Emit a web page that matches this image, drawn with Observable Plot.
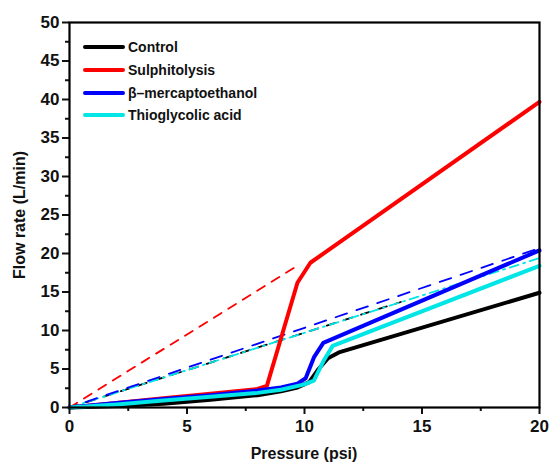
<!DOCTYPE html>
<html>
<head>
<meta charset="utf-8">
<script src="https://cdn.jsdelivr.net/npm/d3@7"></script>
<script src="https://cdn.jsdelivr.net/npm/@observablehq/plot@0.6"></script>
<style>
  html, body { margin: 0; padding: 0; background: #fff; }
  #wrap { position: relative; width: 549px; height: 468px; font-family: "Liberation Sans", Arial, sans-serif; }
  #legend { position: absolute; left: 83px; top: 36px; font-weight: bold; font-size: 14px; color: #111; }
  .row { display: flex; align-items: center; height: 22.7px; }
  .sw { width: 42px; height: 4px; border-radius: 2px; margin-right: 3px; }
</style>
</head>
<body>
<div id="wrap"><div id="chart"></div><div id="legend"></div></div>
<script>
// ---- data ----
const seriesNames = ["Control", "Sulphitolysis", "β–mercaptoethanol", "Thioglycolic acid"];
const seriesColors = ["#000000", "#ff0000", "#0000ff", "#00e5e5"];

const controlP = [0, 2, 4, 6, 8, 9, 9.7, 10.2, 10.6, 11.0, 11.5, 20];
const controlF = [0, 0.2, 0.5, 1.0, 1.6, 2.1, 2.6, 3.3, 5.0, 6.4, 7.2, 14.9];

const sulphP = [0, 2, 4, 6, 8, 8.4, 9.0, 9.7, 10.25, 20];
const sulphF = [0, 0.6, 1.2, 1.8, 2.4, 2.8, 9.0, 16.2, 18.8, 39.7];

const mercP = [0, 2, 4, 6, 8, 9, 9.7, 10.05, 10.4, 10.8, 20];
const mercF = [0, 0.6, 1.1, 1.6, 2.2, 2.6, 3.1, 3.8, 6.5, 8.4, 20.4];

const thioP = [0, 2, 4, 6, 8, 9, 10.0, 10.4, 10.8, 11.2, 20];
const thioF = [0, 0.4, 0.9, 1.4, 1.9, 2.3, 3.0, 3.5, 6.0, 8.0, 18.4];

// dashed linear-regime extrapolations
const sulphFitP = [0, 9.8];
const sulphFitF = [0, 18.6];
const controlFitP = [0, 14.1];
const controlFitF = [0, 13.7];
const mercFitP = [0, 20];
const mercFitF = [0, 20.7];
const thioFitP = [0, 20];
const thioFitF = [0, 19.4];

const xTicks = [0, 5, 10, 15, 20];
const xMinor = [2.5, 7.5, 12.5, 17.5];
const yTicks = [0, 5, 10, 15, 20, 25, 30, 35, 40, 45, 50];
const yMinor = [2.5, 7.5, 12.5, 17.5, 22.5, 27.5, 32.5, 37.5, 42.5, 47.5];

const toRows = (P, F) => P.map((p, i) => ({p, f: F[i]}));

const font = `"Liberation Sans", Arial, sans-serif`;

const chart = Plot.plot({
  width: 549,
  height: 468,
  marginLeft: 69,
  marginRight: 10,
  marginTop: 22,
  marginBottom: 61,
  style: {fontFamily: font, fontSize: "16px", fontWeight: "bold", color: "#111", background: "#fff"},
  x: {domain: [0, 20], label: null},
  y: {domain: [0, 50], label: null},
  marks: [
    // dashed fits
    Plot.line(toRows(sulphFitP, sulphFitF), {x: "p", y: "f", stroke: seriesColors[1], strokeWidth: 1.8, strokeDasharray: "9,8"}),
    Plot.line(toRows(controlFitP, controlFitF), {x: "p", y: "f", stroke: seriesColors[0], strokeWidth: 1.8, strokeDasharray: "9,9"}),
    Plot.line(toRows(thioFitP, thioFitF), {x: "p", y: "f", stroke: seriesColors[3], strokeWidth: 1.8, strokeDasharray: "9,5,2,5"}),
    Plot.line(toRows(mercFitP, mercFitF), {x: "p", y: "f", stroke: seriesColors[2], strokeWidth: 1.8, strokeDasharray: "12,10", strokeDashoffset: 5}),
    // solid measured curves
    Plot.line(toRows(sulphP, sulphF), {x: "p", y: "f", stroke: seriesColors[1], strokeWidth: 4}),
    Plot.line(toRows(controlP, controlF), {x: "p", y: "f", stroke: seriesColors[0], strokeWidth: 4}),
    Plot.line(toRows(mercP, mercF), {x: "p", y: "f", stroke: seriesColors[2], strokeWidth: 4}),
    Plot.line(toRows(thioP, thioF), {x: "p", y: "f", stroke: seriesColors[3], strokeWidth: 4}),
    // axes
    Plot.axisX({ticks: xMinor, tickSize: 4, tickWidth: 2, text: null, label: null, strokeWidth: 2}),
    Plot.axisX({ticks: xTicks, tickSize: 7, tickPadding: 5, strokeWidth: 2, label: null, fontSize: 17, fontWeight: "bold"}),
    Plot.axisY({ticks: yMinor, tickSize: 4, text: null, label: null, strokeWidth: 2}),
    Plot.axisY({ticks: yTicks, tickSize: 7, tickPadding: 3, strokeWidth: 2, label: null, fontSize: 17, fontWeight: "bold"}),
    Plot.frame({stroke: "#000", strokeWidth: 2.2})
  ]
});

const svg = d3.select(chart);
svg.append("text")
  .attr("x", 304).attr("y", 459)
  .attr("text-anchor", "middle")
  .style("font-family", font).style("font-weight", "bold").style("font-size", "16px")
  .attr("fill", "#111")
  .text("Pressure (psi)");
svg.append("text")
  .attr("transform", "translate(25,215) rotate(-90)")
  .attr("text-anchor", "middle")
  .style("font-family", font).style("font-weight", "bold").style("font-size", "16px")
  .attr("fill", "#111")
  .text("Flow rate (L/min)");

document.getElementById("chart").appendChild(chart);

const legend = d3.select("#legend");
seriesNames.forEach((name, i) => {
  const row = legend.append("div").attr("class", "row");
  row.append("div").attr("class", "sw").style("background", seriesColors[i]);
  row.append("span").text(name);
});
</script>
</body>
</html>
